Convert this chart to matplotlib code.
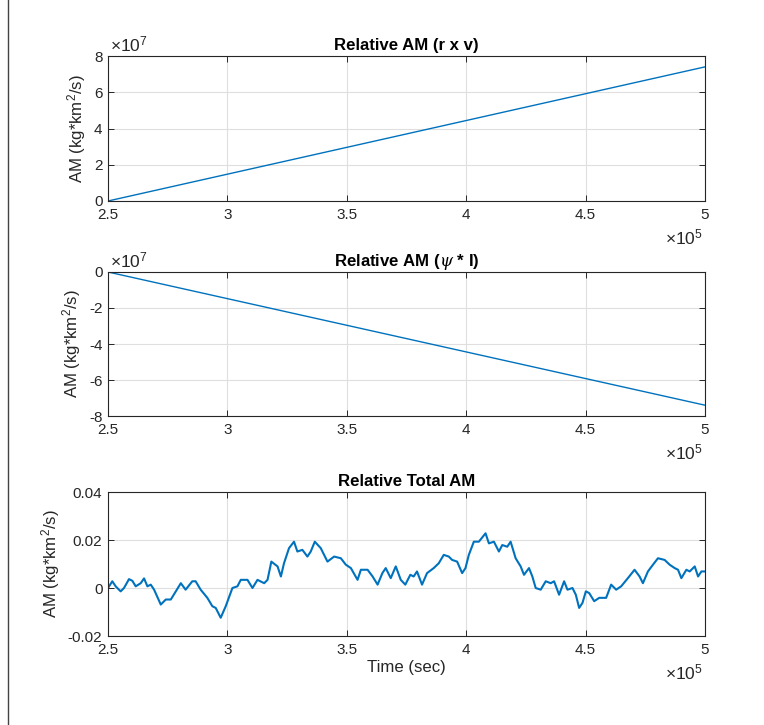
import numpy as np
import matplotlib
matplotlib.use("Agg")
import matplotlib.pyplot as plt
from matplotlib.lines import Line2D

plt.rcParams['font.family'] = ['Liberation Sans', 'DejaVu Sans']
plt.rcParams['mathtext.fontset'] = 'custom'
plt.rcParams['mathtext.rm'] = 'Liberation Sans'
plt.rcParams['mathtext.it'] = 'DejaVu Serif:italic'
plt.rcParams['mathtext.bf'] = 'Liberation Sans:bold'
plt.rcParams['axes.unicode_minus'] = False

# ---- data (time in units of 1e5 s) ----
t_lin = [2.5, 5.0]
am_rxv = [0.0, 7.4]          # x 1e7
am_psi = [0.0, -7.4]         # x 1e7

t_total = [2.5, 2.518, 2.532, 2.553, 2.567, 2.588, 2.602, 2.616, 2.637, 2.651,
           2.665, 2.679, 2.693, 2.721, 2.742, 2.763, 2.784, 2.805, 2.825, 2.853,
           2.867, 2.888, 2.916, 2.937, 2.951, 2.972, 2.993, 3.021, 3.042, 3.056,
           3.084, 3.105, 3.126, 3.154, 3.168, 3.184, 3.210, 3.224, 3.237, 3.258,
           3.279, 3.293, 3.314, 3.335, 3.349, 3.366, 3.391, 3.419, 3.447, 3.475,
           3.496, 3.517, 3.545, 3.559, 3.587, 3.608, 3.629, 3.649, 3.663, 3.684,
           3.705, 3.726, 3.745, 3.766, 3.780, 3.794, 3.815, 3.836, 3.864, 3.885,
           3.906, 3.927, 3.941, 3.962, 3.983, 3.997, 4.011, 4.032, 4.053, 4.081,
           4.095, 4.116, 4.137, 4.151, 4.172, 4.186, 4.207, 4.228, 4.242, 4.263,
           4.277, 4.291, 4.312, 4.333, 4.354, 4.368, 4.389, 4.410, 4.424, 4.445,
           4.459, 4.473, 4.487, 4.501, 4.515, 4.536, 4.557, 4.586, 4.607, 4.628,
           4.649, 4.677, 4.705, 4.726, 4.740, 4.761, 4.782, 4.803, 4.831, 4.852,
           4.873, 4.887, 4.901, 4.922, 4.936, 4.957, 4.971, 4.985, 5.0]
am_total = [0.0, 0.0028, 0.0007, -0.0014, 0.0, 0.0037, 0.0030, 0.0007, 0.0020, 0.0040,
            0.0007, 0.0014, -0.0007, -0.0069, -0.0048, -0.0048, -0.0014, 0.0020, -0.0007, 0.0028,
            0.0028, -0.0007, -0.0041, -0.0076, -0.0083, -0.0124, -0.0076, 0.0, 0.0007, 0.0034,
            0.0034, 0.0, 0.0034, 0.0020, 0.0034, 0.0110, 0.0090, 0.0048, 0.0103, 0.0166,
            0.0193, 0.0152, 0.0159, 0.0131, 0.0152, 0.0193, 0.0166, 0.0110, 0.0131, 0.0124,
            0.0097, 0.0083, 0.0034, 0.0076, 0.0076, 0.0048, 0.0014, 0.0062, 0.0083, 0.0041,
            0.0090, 0.0034, 0.0014, 0.0055, 0.0048, 0.0069, 0.0014, 0.0062, 0.0083, 0.0103,
            0.0138, 0.0131, 0.0117, 0.0110, 0.0062, 0.0083, 0.0138, 0.0193, 0.0193, 0.0228,
            0.0186, 0.0193, 0.0152, 0.0179, 0.0172, 0.0193, 0.0124, 0.0090, 0.0055, 0.0083,
            0.0048, 0.0, -0.0007, 0.0028, 0.0020, 0.0028, -0.0028, 0.0028, -0.0007, 0.0,
            -0.0028, -0.0083, -0.0062, -0.0014, -0.0021, -0.0055, -0.0041, -0.0041, 0.0014, -0.0007,
            0.0007, 0.0041, 0.0076, 0.0048, 0.0020, 0.0069, 0.0097, 0.0124, 0.0117, 0.0097,
            0.0083, 0.0076, 0.0041, 0.0076, 0.0069, 0.0090, 0.0048, 0.0069, 0.0069]

x_ticks = [2.5, 3, 3.5, 4, 4.5, 5]
x_ticklabels = ['2.5', '3', '3.5', '4', '4.5', '5']
y1_ticks = [0, 2, 4, 6, 8]
y2_ticks = [-8, -6, -4, -2, 0]
y3_ticks = [-0.02, 0, 0.02, 0.04]
y3_ticklabels = ['-0.02', '0', '0.02', '0.04']

titles = ['Relative AM (r x v)', r'Relative AM ($\psi$ * I)', 'Relative Total AM']
ylabel = r'AM (kg*km$^2$/s)'

BLUE = '#0072BD'
AXC = '#262626'
TICK_FS = 11
LAB_FS = 12.1
MULT_FS = 12.5

fig = plt.figure(figsize=(7.64, 7.25), dpi=100)
W, H = 764, 725
left = 108 / W
width = 597 / W
boxes = [(56, 201), (272, 416), (492, 636)]
axes = []
for top, bot in boxes:
    ax = fig.add_axes([left, 1 - bot / H, width, (bot - top) / H])
    axes.append(ax)

def style(ax):
    ax.set_xlim(2.5, 5)
    ax.set_xticks(x_ticks)
    ax.set_xticklabels(x_ticklabels)
    ax.grid(True, color='#dfdfdf', lw=0.8)
    ax.set_axisbelow(True)
    ax.tick_params(direction='in', top=True, right=True, length=4, width=0.7,
                   colors=AXC, labelsize=TICK_FS)
    ax.tick_params(axis='x', pad=5)
    ax.tick_params(axis='y', pad=4)
    for s in ax.spines.values():
        s.set_color(AXC)
        s.set_linewidth(0.8)
    ax.set_ylabel(ylabel, fontsize=LAB_FS, color=AXC, labelpad=4)
    ax.annotate(r'$\times10^{5}$', xy=(1, 0), xycoords='axes fraction',
                xytext=(-1.5, -31.5), textcoords='offset points', ha='right', va='baseline',
                fontsize=MULT_FS, color=AXC)

def mult7(ax):
    ax.annotate(r'$\times10^{7}$', xy=(0, 1), xycoords='axes fraction',
                xytext=(1.5, 3), textcoords='offset points', ha='left', va='baseline',
                fontsize=MULT_FS, color=AXC)

ax1, ax2, ax3 = axes
ax1.plot(t_lin, am_rxv, color=BLUE, lw=1.0)
ax1.set_ylim(0, 8)
ax1.set_yticks(y1_ticks)
style(ax1)
ax1.set_title(titles[0], fontsize=LAB_FS, fontweight='bold', pad=4)
mult7(ax1)

ax2.plot(t_lin, am_psi, color=BLUE, lw=1.0)
ax2.set_ylim(-8, 0)
ax2.set_yticks(y2_ticks)
style(ax2)
ax2.set_title(titles[1], fontsize=LAB_FS, fontweight='bold', pad=4)
mult7(ax2)

ax3.plot(t_total, am_total, color=BLUE, lw=1.5)
ax3.set_ylim(-0.02, 0.04)
ax3.set_yticks(y3_ticks)
ax3.set_yticklabels(y3_ticklabels)
style(ax3)
ax3.set_title(titles[2], fontsize=LAB_FS, fontweight='bold', pad=4)
ax3.set_xlabel('Time (sec)', fontsize=LAB_FS, color=AXC, labelpad=2)

fig.add_artist(Line2D([7.5 / W, 7.5 / W], [0, 1], color='#444444', lw=1.0))

fig.savefig('out.png', dpi=100, facecolor='white')
